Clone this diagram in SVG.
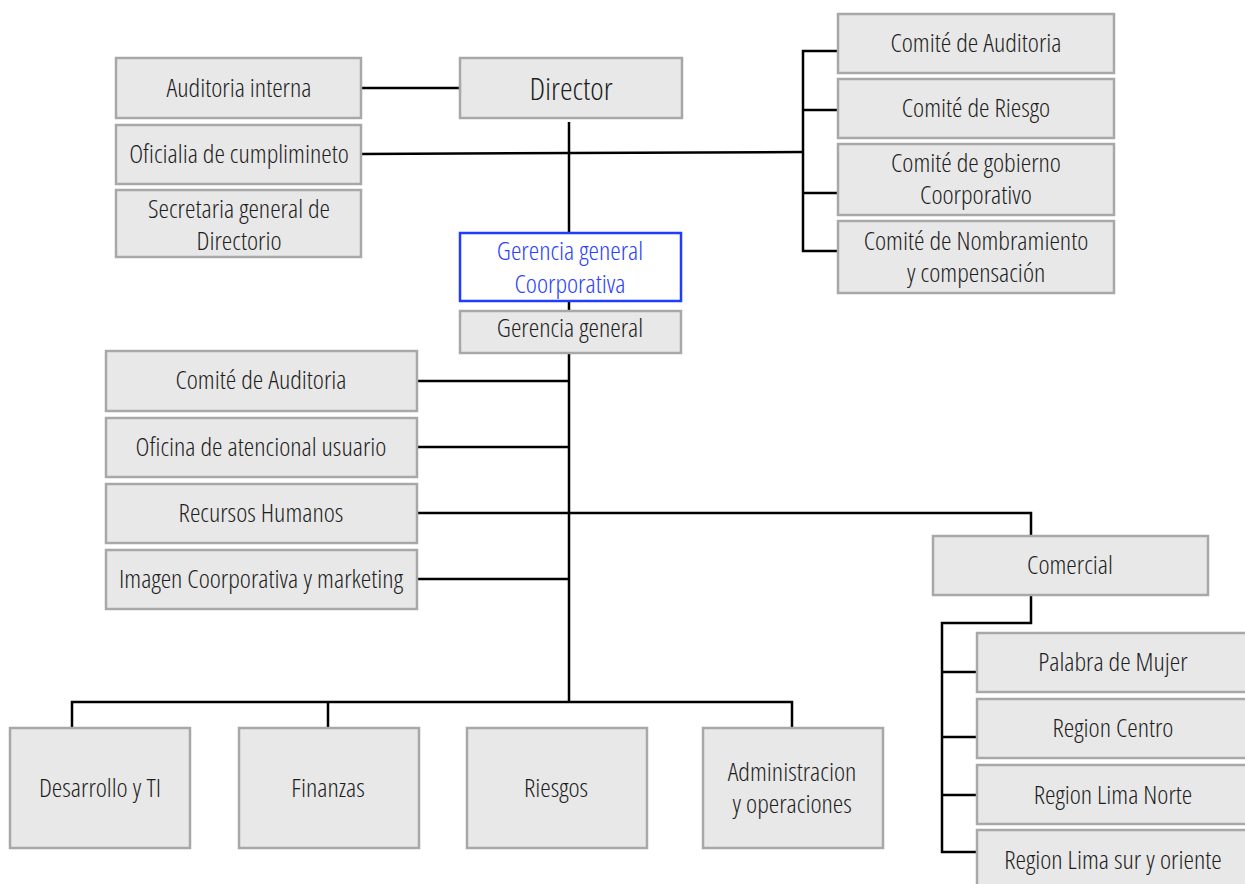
<svg xmlns="http://www.w3.org/2000/svg" width="1245" height="884" viewBox="0 0 1245 884">
<style>
.box{fill:#e8e8e8;stroke:#a8a8a8;stroke-width:2.5}
.blue{fill:#ffffff;stroke:#1f3cff;stroke-width:2.5}
text{font-family:"Open Sans","Liberation Sans Narrow","DejaVu Sans Condensed",sans-serif;font-stretch:condensed;font-weight:300;font-size:26.5px;fill:#1e1e1e;text-anchor:middle;dominant-baseline:central}
.bt{fill:#2a40ff}
.big{font-size:32px}
.con{fill:none;stroke:#000;stroke-width:2.5}
</style>
<rect width="1245" height="884" fill="#fff"/>
<g id="connectors">
<path class="con" d="M361 88H460"/>
<path class="con" d="M569 122V233"/>
<path class="con" d="M361 154L803 152"/>
<path class="con" d="M838 51H803V251H838M803 110H838M803 193H838"/>
<path class="con" d="M569 301V311"/>
<path class="con" d="M569 353V702"/>
<path class="con" d="M417 381H569M417 447H569M417 513H1031V536M417 579H569"/>
<path class="con" d="M72 728V702H792V728M328 702V728"/>
<path class="con" d="M1031 595V623H942V852H977M942 672H977M942 737H977M942 795H977"/>
</g>
<g id="director"><rect class="box" x="460" y="58" width="222" height="60"/><text class="big" x="571" y="87">Director</text></g>
<g id="auditoria-interna"><rect class="box" x="116" y="58" width="245" height="60"/><text x="239" y="87">Auditoria interna</text></g>
<g id="oficialia"><rect class="box" x="116" y="125" width="245" height="59"/><text x="239" y="153">Oficialia de cumplimineto</text></g>
<g id="secretaria"><rect class="box" x="116" y="190" width="245" height="67"/><text x="239" y="208">Secretaria general de</text><text x="239" y="240">Directorio</text></g>
<g id="comite-auditoria-dir"><rect class="box" x="838" y="14" width="276" height="59"/><text x="976" y="42">Comité de Auditoria</text></g>
<g id="comite-riesgo"><rect class="box" x="838" y="79" width="276" height="59"/><text x="976" y="107">Comité de Riesgo</text></g>
<g id="comite-gobierno"><rect class="box" x="838" y="144" width="276" height="71"/><text x="976" y="162">Comité de gobierno</text><text x="976" y="194">Coorporativo</text></g>
<g id="comite-nombramiento"><rect class="box" x="838" y="221" width="276" height="72"/><text x="976" y="240">Comité de Nombramiento</text><text x="976" y="272">y compensación</text></g>
<g id="gerencia-corp"><rect class="blue" x="460" y="233" width="221" height="68"/><text class="bt" x="570" y="250">Gerencia general</text><text class="bt" x="570" y="283">Coorporativa</text></g>
<g id="gerencia-general"><rect class="box" x="460" y="311" width="221" height="42"/><text x="570" y="327">Gerencia general</text></g>
<g id="comite-auditoria"><rect class="box" x="106" y="351" width="311" height="60"/><text x="261" y="379">Comité de Auditoria</text></g>
<g id="oficina"><rect class="box" x="106" y="418" width="311" height="59"/><text x="261" y="446">Oficina de atencional usuario</text></g>
<g id="rrhh"><rect class="box" x="106" y="484" width="311" height="59"/><text x="261" y="512">Recursos Humanos</text></g>
<g id="imagen"><rect class="box" x="106" y="550" width="311" height="59"/><text x="261" y="578">Imagen Coorporativa y marketing</text></g>
<g id="comercial"><rect class="box" x="933" y="536" width="275" height="59"/><text x="1070" y="564">Comercial</text></g>
<g id="palabra"><rect class="box" x="977" y="633" width="270" height="59"/><text x="1113" y="661">Palabra de Mujer</text></g>
<g id="region-centro"><rect class="box" x="977" y="699" width="270" height="59"/><text x="1113" y="727">Region Centro</text></g>
<g id="region-norte"><rect class="box" x="977" y="765" width="270" height="59"/><text x="1113" y="794">Region Lima Norte</text></g>
<g id="region-sur"><rect class="box" x="977" y="830" width="270" height="60"/><text x="1113" y="859">Region Lima sur y oriente</text></g>
<g id="desarrollo"><rect class="box" x="10" y="728" width="180" height="120"/><text x="100" y="787">Desarrollo y TI</text></g>
<g id="finanzas"><rect class="box" x="239" y="728" width="180" height="120"/><text x="328" y="787">Finanzas</text></g>
<g id="riesgos"><rect class="box" x="467" y="728" width="180" height="120"/><text x="556" y="787">Riesgos</text></g>
<g id="administracion"><rect class="box" x="703" y="728" width="180" height="120"/><text x="792" y="771">Administracion</text><text x="792" y="803">y operaciones</text></g>
</svg>
